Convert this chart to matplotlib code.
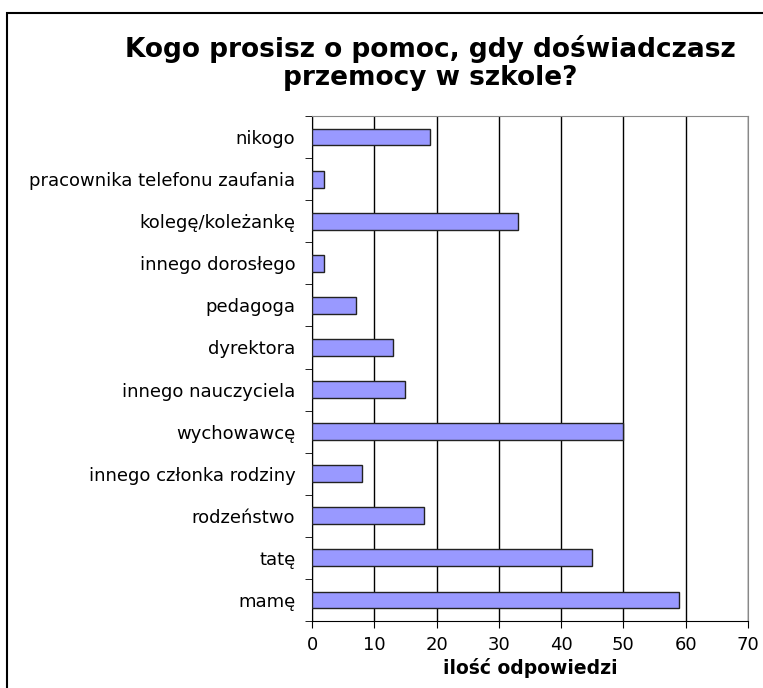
import matplotlib.pyplot as plt
import numpy as np
from matplotlib.patches import Rectangle

# answers, listed from the bottom of the chart upwards
categories = ["mamę", "tatę", "rodzeństwo", "innego członka rodziny", "wychowawcę",
              "innego nauczyciela", "dyrektora", "pedagoga", "innego dorosłego",
              "kolegę/koleżankę", "pracownika telefonu zaufania", "nikogo"]
values = [59, 45, 18, 8, 50, 15, 13, 7, 2, 33, 2, 19]
x_ticks = [0, 10, 20, 30, 40, 50, 60, 70]

plt.rcParams['font.family'] = ['DejaVu Sans']

W, H = 763, 688
fig = plt.figure(figsize=(W / 100, H / 100), dpi=100)

# outer chart frame (runs off the right and bottom edges)
fig.patches.append(Rectangle((7 / W, -0.01), 1.0, 1.01 - 13 / H,
                             transform=fig.transFigure, fill=False,
                             edgecolor='black', linewidth=1.5))

# plot area in pixel coords
left, right, top, bottom = 312, 748, 116, 621
ax = fig.add_axes([left / W, 1 - bottom / H, (right - left) / W, (bottom - top) / H])

y = np.arange(len(categories))
ax.barh(y, values, height=0.4, color='#9999FF', edgecolor='#222222', linewidth=1, zorder=3)

ax.set_xlim(0, 70)
ax.set_ylim(-0.5, len(categories) - 0.5)
ax.set_xticks(x_ticks)
ax.set_xticklabels([str(t) for t in x_ticks], fontsize=13)

# category labels in the middle, tick marks between categories
ax.set_yticks(y)
ax.set_yticklabels(categories, fontsize=13)
ax.tick_params(axis='y', which='major', length=0, pad=12)
ax.set_yticks(np.arange(-0.5, len(categories), 1), minor=True)
ax.tick_params(axis='y', which='minor', length=5, direction='out', color='black')
ax.tick_params(axis='x', length=5, direction='out', pad=6)

ax.grid(axis='x', color='black', linewidth=1, zorder=0)
ax.spines['left'].set_color('black')
ax.spines['bottom'].set_color('black')
ax.spines['top'].set_color('#888888')
ax.spines['right'].set_color('#888888')

ax.set_xlabel("ilość odpowiedzi", fontsize=13.5, fontweight='bold', labelpad=3)

fig.text(430 / W, 1 - 63 / H, "Kogo prosisz o pomoc, gdy doświadczasz\nprzemocy w szkole?",
         ha='center', va='center', fontsize=19, fontweight='bold', linespacing=1.1)

fig.savefig("out.png", dpi=100)
